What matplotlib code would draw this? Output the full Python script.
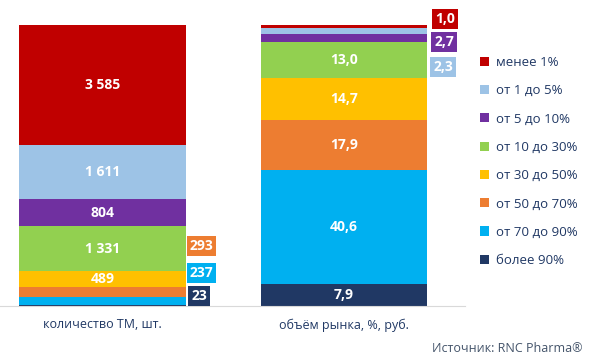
import numpy as np
import matplotlib
matplotlib.use("Agg")
import matplotlib.pyplot as plt
from matplotlib.patches import Patch

plt.rcParams["font.family"] = ["Open Sans", "DejaVu Sans"]

# ── Data ──
groups = ["более 90%", "от 70 до 90%", "от 50 до 70%", "от 30 до 50%",
          "от 10 до 30%", "от 5 до 10%", "от 1 до 5%", "менее 1%"]
colors = ["#203864", "#00B0F0", "#ED7D31", "#FFC000",
          "#92D050", "#7030A0", "#9DC3E6", "#C00000"]
bar_names = ["количество ТМ, шт.", "объём рынка, %, руб."]
tm_count = [23, 237, 293, 489, 1331, 804, 1611, 3585]
market_share = [7.9, 40.6, 17.9, 14.7, 13.0, 2.7, 2.3, 1.0]

# small segments get their label in a box beside the bar: (bar, group) -> (x, y)
outside = {
    (0, "более 90%"): (0.40, 3.6),
    (0, "от 70 до 90%"): (0.41, 11.7),
    (0, "от 50 до 70%"): (0.41, 21.4),
    (1, "от 5 до 10%"): (1.415, 93.8),
    (1, "от 1 до 5%"): (1.41, 84.9),
    (1, "менее 1%"): (1.418, 102.0),
}


def fmt_count(v):
    return f"{v:,}".replace(",", " ")


def fmt_share(v):
    return f"{v:.1f}".replace(".", ",")


fig = plt.figure(figsize=(5.9, 3.62), dpi=100)
ax = fig.add_axes([0, 56 / 362, 465 / 590, 306 / 362])

series = [(tm_count, fmt_count), (market_share, fmt_share)]
width = 0.69
for i, (vals, fmt) in enumerate(series):
    vals = np.array(vals, dtype=float)
    pct = vals / vals.sum() * 100
    bottom = 0.0
    for g, v, p, c in zip(groups, vals, pct, colors):
        ax.bar(i, p, bottom=bottom, width=width, color=c, linewidth=0)
        label = fmt(int(v) if fmt is fmt_count else v)
        if (i, g) in outside:
            x, y = outside[(i, g)]
            ax.text(x, y, label, ha="center", va="center", color="white",
                    fontsize=10, fontweight="bold",
                    bbox=dict(boxstyle="square,pad=0.22", fc=c, ec="none"))
        else:
            ax.text(i, bottom + p / 2, label, ha="center", va="center",
                    color="white", fontsize=10, fontweight="bold")
        bottom += p

ax.set_xlim(-0.424, 1.501)
ax.set_ylim(0, 108.9)
for s in ["top", "right", "left"]:
    ax.spines[s].set_visible(False)
ax.spines["bottom"].set_color("#D9D9D9")
ax.set_yticks([])
ax.set_xticks([0, 1])
ax.set_xticklabels(bar_names, fontsize=9, color="#203864")
ax.tick_params(axis="x", length=0, pad=9)

handles = [Patch(facecolor=c, edgecolor="none") for c in colors[::-1]]
fig.legend(handles, groups[::-1], loc="upper left",
           bbox_to_anchor=(468 / 590, 1 - 44 / 362), frameon=False,
           fontsize=9.5, labelcolor="#203864", handlelength=0.7,
           handleheight=0.7, handletextpad=0.5, labelspacing=1.16)

fig.text(583 / 590, 1 - 349 / 362, "Источник: RNC Pharma®", ha="right",
         va="center", fontsize=9, color="#44546A")

fig.savefig("out.png", dpi=100)
